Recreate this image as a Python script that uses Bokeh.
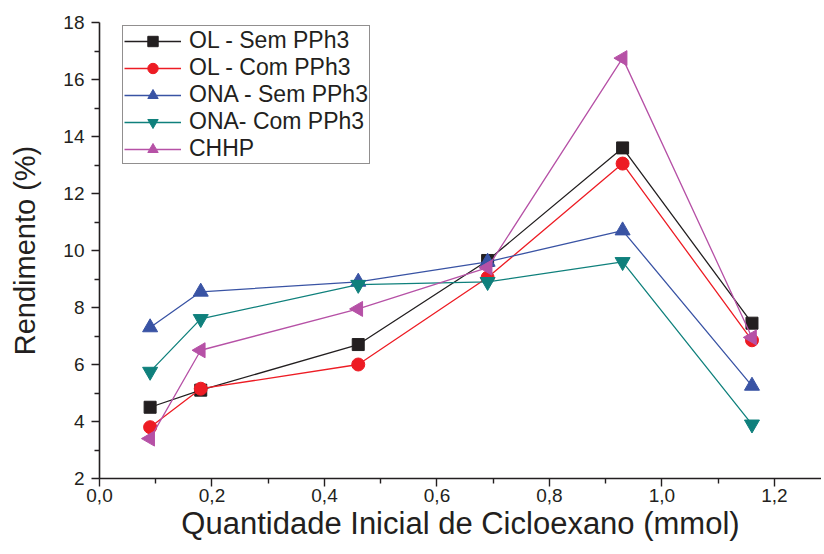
import math
from bokeh.plotting import figure
from bokeh.embed import file_html
from bokeh.resources import INLINE
from bokeh.models import FixedTicker, Legend, LegendItem, Range1d

# ---- data ----
x_mmol = [0.09, 0.18, 0.46, 0.69, 0.93, 1.16]
ol_sem = [4.5, 5.1, 6.7, 9.65, 13.6, 7.45]
ol_com = [3.8, 5.15, 6.0, 9.05, 13.05, 6.85]
ona_sem = [7.3, 8.55, 8.9, 9.6, 10.7, 5.25]
ona_com = [5.75, 7.6, 8.8, 8.9, 9.6, 3.9]
chhp = [3.4, 6.5, 7.95, 9.4, 16.75, 6.95]

series_labels = ["OL - Sem PPh3", "OL - Com PPh3", "ONA - Sem PPh3", "ONA- Com PPh3", "CHHP"]
series_values = [ol_sem, ol_com, ona_sem, ona_com, chhp]

x_ticks = [0.0, 0.2, 0.4, 0.6, 0.8, 1.0, 1.2]
x_tick_labels = ["0,0", "0,2", "0,4", "0,6", "0,8", "1,0", "1,2"]
x_minor = [0.1, 0.3, 0.5, 0.7, 0.9, 1.1]
y_ticks = [2, 4, 6, 8, 10, 12, 14, 16, 18]
y_tick_labels = ["2", "4", "6", "8", "10", "12", "14", "16", "18"]
y_minor = [3, 5, 7, 9, 11, 13, 15, 17]

x_title = "Quantidade Inicial de Cicloexano (mmol)"
y_title = "Rendimento (%)"

# ---- styles ----
colors = ["#231f20", "#ed1c24", "#3953a4", "#0f807c", "#b651a6"]
markers = ["square", "circle", "triangle", "inverted_triangle", "triangle"]
angles = [0, 0, 0, 0, math.pi / 2]
sizes = [12, 13, 15, 15, 15]
FONT = "Liberation Sans"
AX = "#231f20"

p = figure(width=821, height=545, output_backend="svg", toolbar_location=None,
           x_range=Range1d(0, 1.2836), y_range=Range1d(2, 18),
           min_border_left=99, min_border_right=0, min_border_top=22, min_border_bottom=67)
p.outline_line_color = None
p.xgrid.visible = False
p.ygrid.visible = False
p.background_fill_color = "white"
p.border_fill_color = "white"

p.xaxis.ticker = FixedTicker(ticks=x_ticks, minor_ticks=x_minor)
p.yaxis.ticker = FixedTicker(ticks=y_ticks, minor_ticks=y_minor)
p.xaxis.major_label_overrides = dict(zip(x_ticks, x_tick_labels))
p.yaxis.major_label_overrides = dict(zip(y_ticks, y_tick_labels))

for ax in (p.xaxis, p.yaxis):
    ax.axis_line_color = AX
    ax.axis_line_width = 1.6
    ax.major_tick_line_color = AX
    ax.minor_tick_line_color = AX
    ax.major_tick_line_width = 1.4
    ax.minor_tick_line_width = 1.4
    ax.major_tick_in = 0
    ax.major_tick_out = 8
    ax.minor_tick_in = 0
    ax.minor_tick_out = 5
    ax.major_label_text_font = FONT
    ax.major_label_text_font_size = "19px"
    ax.major_label_text_color = AX
    ax.axis_label_text_font = FONT
    ax.axis_label_text_font_style = "normal"
    ax.axis_label_text_color = AX

p.xaxis.axis_label = x_title
p.yaxis.axis_label = y_title
p.xaxis.axis_label_text_font_size = "31px"
p.yaxis.axis_label_text_font_size = "29px"
p.xaxis.major_label_standoff = 2
p.yaxis.major_label_standoff = 7
p.xaxis.axis_label_standoff = 1
p.yaxis.axis_label_standoff = 19

items = []
for lab, vals, c, m, a, s in zip(series_labels, series_values, colors, markers, angles, sizes):
    r1 = p.line(x_mmol, vals, line_color=c, line_width=1.3)
    r2 = p.scatter(x_mmol, vals, marker=m, angle=a, size=s, fill_color=c, line_color=c)
    items.append(LegendItem(label=lab, renderers=[r1, r2]))

legend = Legend(items=items, location=(23, 314))
legend.border_line_color = AX
legend.border_line_width = 1.2
legend.background_fill_color = "white"
legend.background_fill_alpha = 1
legend.label_text_font = FONT
legend.label_text_font_size = "23px"
legend.label_text_color = AX
legend.glyph_width = 57
legend.glyph_height = 26
legend.label_height = 26
legend.label_standoff = 8
legend.spacing = 0
legend.padding = 1
legend.margin = 0
p.add_layout(legend)

open("out.html", "w").write(file_html(p, INLINE))
